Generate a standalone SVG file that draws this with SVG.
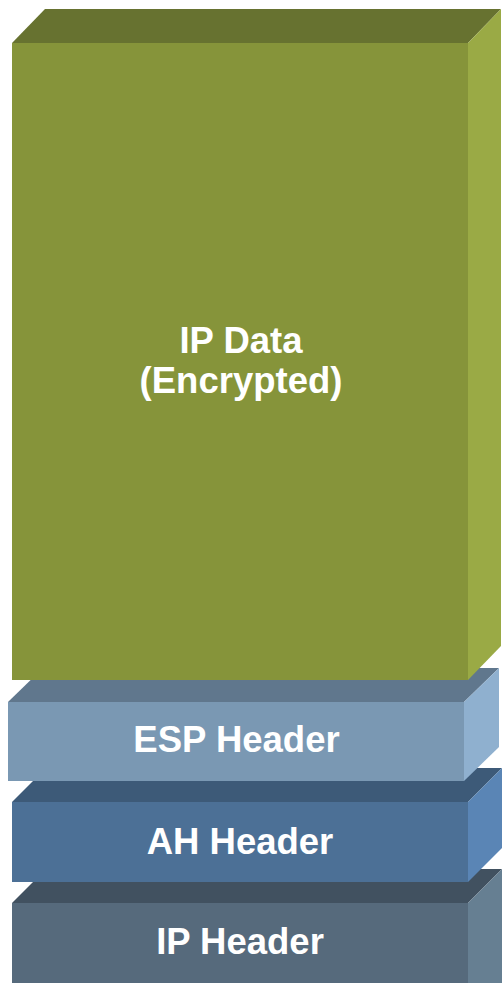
<svg xmlns="http://www.w3.org/2000/svg" width="502" height="983" viewBox="0 0 502 983">
<style>
.lbl{font-family:"Liberation Sans",Arial,sans-serif;font-weight:bold;font-size:36.5px;fill:#ffffff;text-anchor:middle}
</style>
<rect width="502" height="983" fill="#ffffff"/>
<g id="ip-header">
<polygon points="12,903 468,903 502,869 46,869" fill="#415160"/>
<polygon points="468,903 502,869 502,983 468,983" fill="#667F92"/>
<rect x="12" y="903" width="456" height="80" fill="#566A7C"/>
<text class="lbl" x="240" y="954">IP Header</text>
</g>
<g id="ah-header">
<polygon points="12,802 468,802 502,768 46,768" fill="#3D5A78"/>
<polygon points="468,802 502,768 502,848 468,882" fill="#5A85B5"/>
<rect x="12" y="802" width="456" height="80" fill="#4C7096"/>
<text class="lbl" x="240" y="854">AH Header</text>
</g>
<g id="esp-header">
<polygon points="8,702 464,702 499,668 43,668" fill="#60778D"/>
<polygon points="464,702 499,668 499,747 464,781" fill="#8FB0CF"/>
<rect x="8" y="702" width="456" height="79" fill="#7A98B3"/>
<text class="lbl" x="236.5" y="752">ESP Header</text>
</g>
<g id="ip-data">
<polygon points="12,43 468,43 501,9 45,9" fill="#677230"/>
<polygon points="468,43 501,9 501,646 468,680" fill="#9AAA45"/>
<rect x="12" y="43" width="456" height="637" fill="#86943A"/>
<text class="lbl" x="241" y="353">IP Data</text>
<text class="lbl" x="241" y="393">(Encrypted)</text>
</g>
</svg>
